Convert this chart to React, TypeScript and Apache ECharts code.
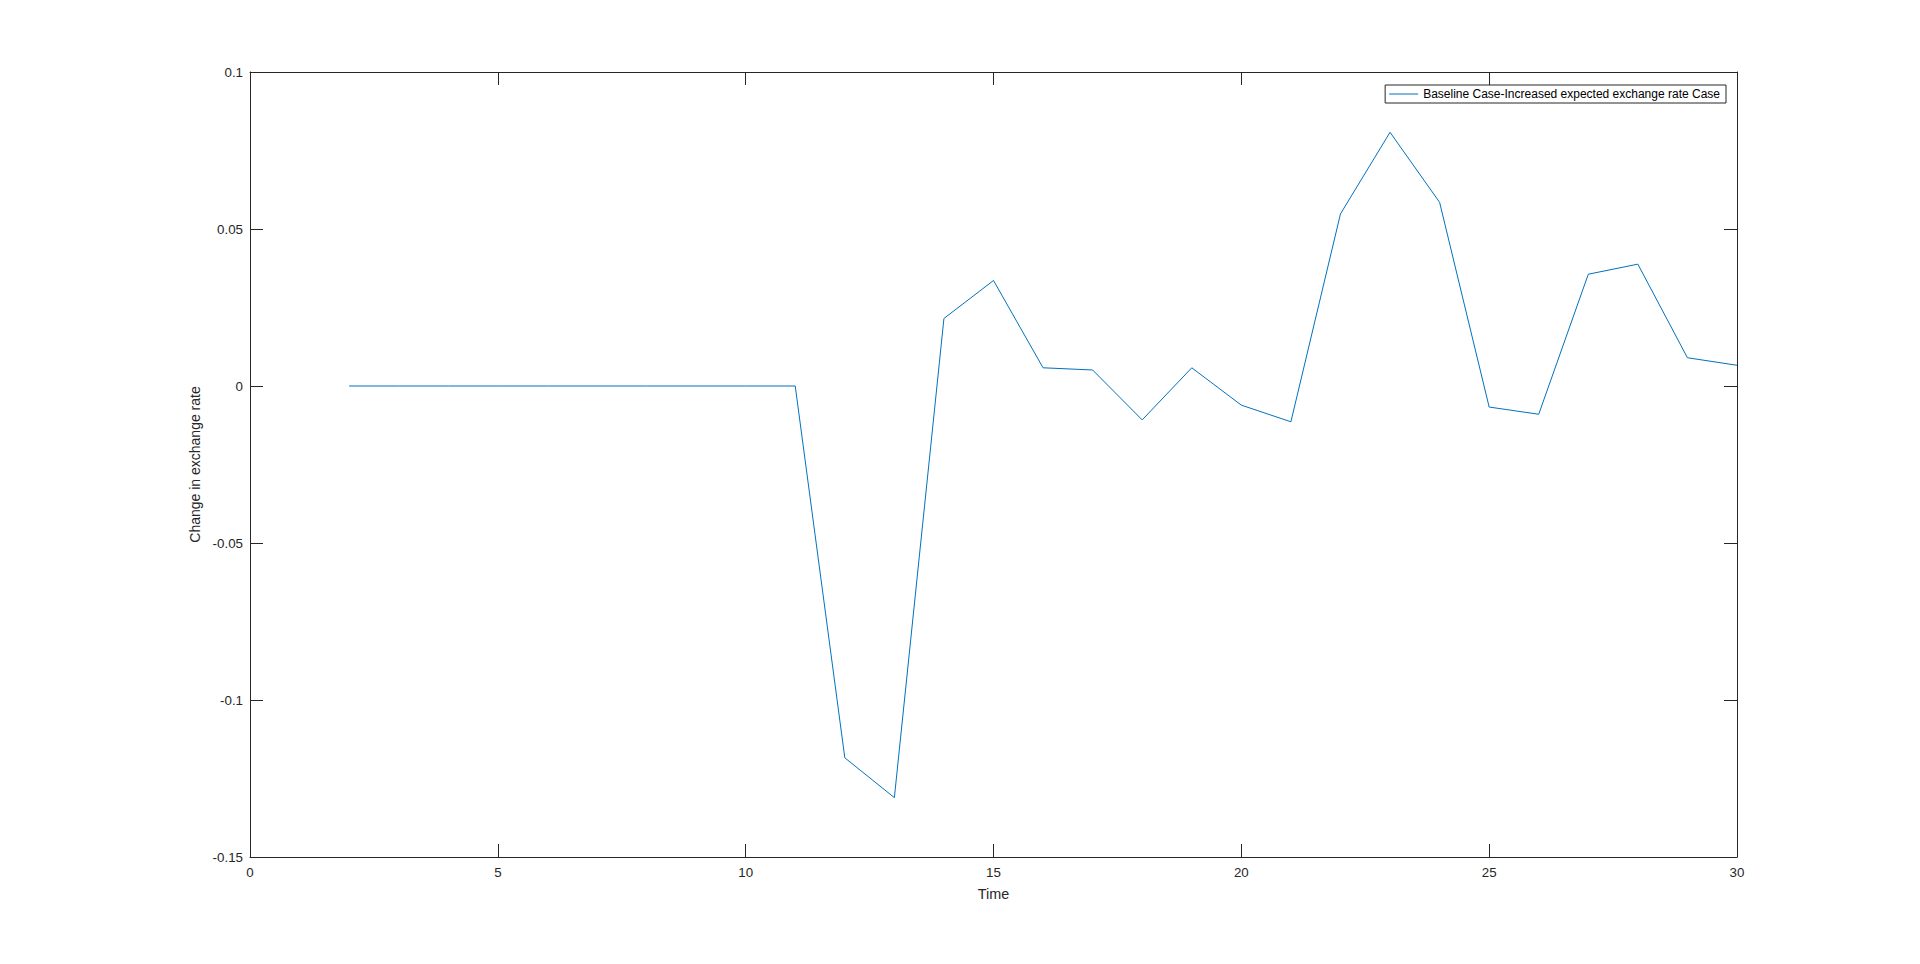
import React, { useEffect, useRef } from "react";
import * as echarts from "echarts";

const timeSteps: number[] = [2, 3, 4, 5, 6, 7, 8, 9, 10, 11, 12, 13, 14, 15, 16, 17, 18, 19, 20, 21, 22, 23, 24, 25, 26, 27, 28, 29, 30];
const changeValues: number[] = [
  0, 0, 0, 0, 0, 0, 0, 0, 0, 0,
  -0.1184, -0.1311, 0.0215, 0.0336, 0.0058, 0.0051, -0.0108, 0.0058, -0.0061, -0.0114,
  0.0548, 0.0808, 0.0585, -0.0067, -0.009, 0.0356, 0.0388, 0.009, 0.0066,
];
const seriesName = "Baseline Case-Increased expected exchange rate Case";
const xLabel = "Time";
const yLabel = "Change in exchange rate";

const FONT = "'Liberation Sans', Arial, Helvetica, sans-serif";
const INK = "#262626";

export default function App() {
  const ref = useRef<HTMLDivElement>(null);
  useEffect(() => {
    if (!ref.current) return;
    const chart = echarts.init(ref.current, undefined, { renderer: "svg" });
    const data = timeSteps.map((t, i) => [t, changeValues[i]]);
    const tickStyle = { show: true, inside: true, length: 13, lineStyle: { color: INK, width: 1 } };
    const axisLine = { show: true, onZero: false, lineStyle: { color: INK, width: 1 } };
    chart.setOption({
      animation: false,
      backgroundColor: "#ffffff",
      textStyle: { fontFamily: FONT },
      grid: { left: 250, right: 183, top: 72, bottom: 107, containLabel: false },
      legend: {
        show: true,
        right: 194,
        top: 85,
        orient: "vertical",
        backgroundColor: "#ffffff",
        borderColor: INK,
        borderWidth: 1,
        borderRadius: 0,
        padding: [3, 6, 3, 4],
        itemWidth: 29,
        itemHeight: 1,
        icon: "rect",
        textStyle: { fontFamily: FONT, fontSize: 12, color: "#000000" },
        data: [{ name: seriesName, itemStyle: { color: "#0072BD" } }],
      },
      xAxis: [
        {
          type: "value",
          min: 0,
          max: 30,
          interval: 5,
          position: "bottom",
          name: xLabel,
          nameLocation: "middle",
          nameGap: 30,
          nameTextStyle: { fontFamily: FONT, fontSize: 14.4, color: INK },
          axisLine,
          axisTick: tickStyle,
          axisLabel: { show: true, margin: 9, fontFamily: FONT, fontSize: 13.33, color: INK },
          splitLine: { show: false },
        },
        {
          type: "value",
          min: 0,
          max: 30,
          interval: 5,
          position: "top",
          axisLine,
          axisTick: tickStyle,
          axisLabel: { show: false },
          splitLine: { show: false },
        },
      ],
      yAxis: [
        {
          type: "value",
          min: -0.15,
          max: 0.1,
          interval: 0.05,
          position: "left",
          name: yLabel,
          nameLocation: "middle",
          nameGap: 31,
          nameRotate: 90,
          nameTextStyle: { fontFamily: FONT, fontSize: 14, color: INK },
          axisLine,
          axisTick: tickStyle,
          axisLabel: {
            show: true,
            margin: 7,
            fontFamily: FONT,
            fontSize: 13.33,
            color: INK,
            formatter: (v: number) => String(Math.round(v * 100) / 100),
          },
          splitLine: { show: false },
        },
        {
          type: "value",
          min: -0.15,
          max: 0.1,
          interval: 0.05,
          position: "right",
          axisLine,
          axisTick: tickStyle,
          axisLabel: { show: false },
          splitLine: { show: false },
        },
      ],
      series: [
        {
          name: seriesName,
          type: "line",
          xAxisIndex: 0,
          yAxisIndex: 0,
          data,
          showSymbol: false,
          symbol: "none",
          lineStyle: { color: "#0072BD", width: 1 },
          itemStyle: { color: "#0072BD" },
        },
      ],
    });
    return () => chart.dispose();
  }, []);
  return <div ref={ref} style={{ width: 1920, height: 964, position: "absolute", left: 0, top: 0 }} />;
}
